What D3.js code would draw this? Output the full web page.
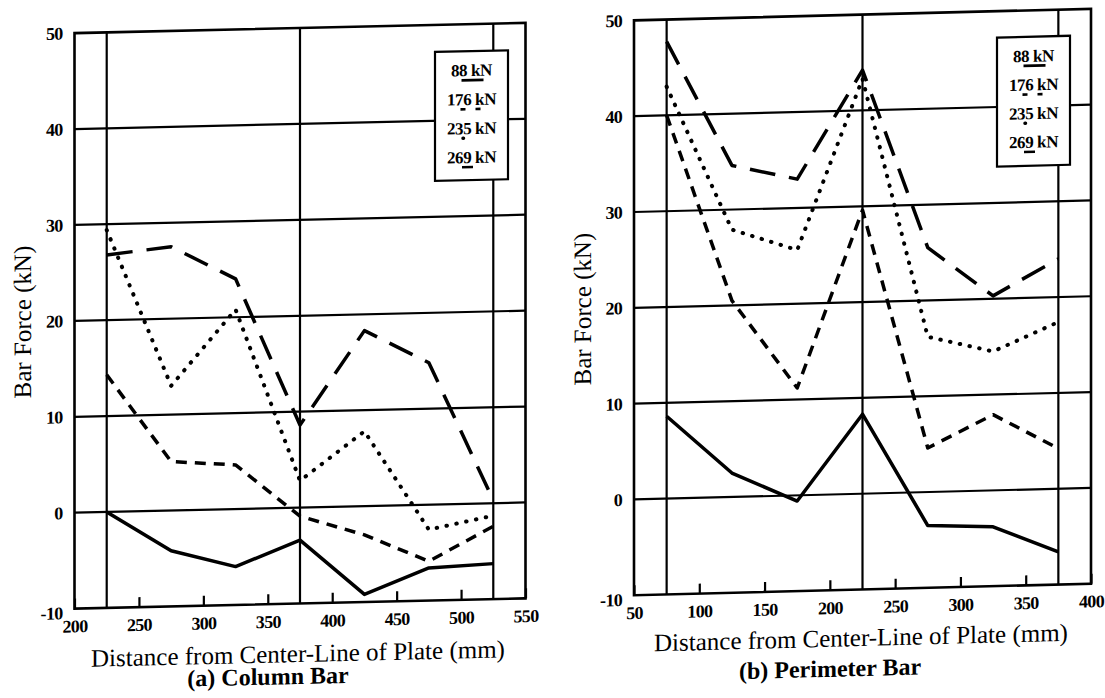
<!DOCTYPE html>
<html>
<head>
<meta charset="utf-8">
<script src="https://cdn.jsdelivr.net/npm/d3@7"></script>
<style>
  body { margin: 0; background: #fff; }
  text { font-family: "Liberation Serif", "Times New Roman", serif; fill: #000; }
</style>
</head>
<body>
<svg id="chart" width="1105" height="698"></svg>
<script>
// load levels, one line per load
const loads = ["88 kN", "176 kN", "235 kN", "269 kN"];

// (a) Column Bar
const colX = [225, 275, 325, 375, 425, 475, 525];
const col88 = [0, -4.2, -6.0, -3.4, -9.2, -6.6, -6.3];
const col176 = [14.3, 5.1, 4.6, -0.9, -3.0, -5.9, -2.4];
const col235 = [29.4, 13.0, 20.8, 2.8, 7.8, -2.6, -1.3];
const col269 = [26.8, 27.5, 24.0, 8.6, 18.3, 14.8, 0.3];
const colTicks = [200, 250, 300, 350, 400, 450, 500, 550];
const colGrid = [225, 375, 525];

// (b) Perimeter Bar
const perX = [75, 125, 175, 225, 275, 325, 375];
const per88 = [8.6, 2.5, -0.6, 8.3, -3.5, -3.8, -6.6];
const per176 = [40.0, 20.5, 11.2, 29.6, 4.6, 7.9, 4.2];
const per235 = [43.0, 27.9, 25.6, 43.3, 16.2, 14.5, 17.4];
const per269 = [47.7, 34.6, 33.0, 44.2, 25.5, 20.3, 24.0];
const perTicks = [50, 100, 150, 200, 250, 300, 350, 400];
const perGrid = [75, 225, 375];

const yTicks = [-10, 0, 10, 20, 30, 40, 50];
const yGrid = [0, 10, 20, 30, 40];

// line styles per load
const lineDash = ["none", "11,8", "0.5,9.5", "26,14"];
const lineWidth = [3.5, 3.5, 4, 3.5];
const lineCap = ["butt", "butt", "round", "butt"];
// little samples under the legend text
const sampleDash = ["none", "5,10", "0.5,10", "none"];
const sampleSpan = [[-10, 12], [-11, 9], [-8.5, 1.5], [-9.5, 1.5]];

const svg = d3.select("#chart");
const plain = d => String(d); // keep the hyphen in "-10"

function drawPanel(p) {
  const cx = (p.left + p.right) / 2, cy = (p.top + p.bottom) / 2;
  // the scanned page is slightly skewed
  const g = svg.append("g")
    .attr("transform", `translate(${cx},${cy}) skewY(${p.skew}) translate(${-cx},${-cy})`);

  const x = d3.scaleLinear().domain(p.xDomain).range([p.left, p.right]);
  const y = d3.scaleLinear().domain([-10, 50]).range([p.bottom, p.top]);

  // horizontal grid
  g.selectAll(".hgrid")
    .data(yGrid)
    .enter()
    .append("line")
    .attr("x1", p.left)
    .attr("x2", p.right)
    .attr("y1", d => y(d))
    .attr("y2", d => y(d))
    .attr("stroke", "#000")
    .attr("stroke-width", 2.2);

  // vertical grid
  g.selectAll(".vgrid")
    .data(p.grid)
    .enter()
    .append("line")
    .attr("x1", d => x(d))
    .attr("x2", d => x(d))
    .attr("y1", p.top)
    .attr("y2", p.bottom)
    .attr("stroke", "#000")
    .attr("stroke-width", 2.2);

  // frame
  g.append("rect")
    .attr("x", p.left)
    .attr("y", p.top)
    .attr("width", p.right - p.left)
    .attr("height", p.bottom - p.top)
    .attr("fill", "none")
    .attr("stroke", "#000")
    .attr("stroke-width", 2.6);

  // bottom axis, ticks pointing in
  const xAxis = g.append("g")
    .attr("transform", `translate(0,${p.bottom})`)
    .call(d3.axisBottom(x).tickValues(p.ticks).tickSize(-10).tickPadding(11).tickFormat(plain));
  xAxis.select(".domain").remove();
  xAxis.selectAll("line").attr("stroke-width", 2.2);
  xAxis.selectAll("text")
    .style("font-family", "'Liberation Serif', serif")
    .style("font-weight", "bold")
    .style("font-size", "18px")
    .style("letter-spacing", "-0.7px");

  const yAxis = g.append("g")
    .attr("transform", `translate(${p.left},0)`)
    .call(d3.axisLeft(y).tickValues(yTicks).tickSize(0).tickPadding(12).tickFormat(plain));
  yAxis.select(".domain").remove();
  yAxis.selectAll("text")
    .style("font-family", "'Liberation Serif', serif")
    .style("font-weight", "bold")
    .style("font-size", "18px")
    .style("letter-spacing", "-0.7px")
    .attr("dy", d => d === -10 ? "0.55em" : "0.32em");

  // series lines
  const line = d3.line()
    .x((d, i) => x(p.xs[i]))
    .y(d => y(d));

  p.series.forEach((vals, k) => {
    g.append("path")
      .datum(vals)
      .attr("fill", "none")
      .attr("stroke", "#000")
      .attr("stroke-width", lineWidth[k])
      .attr("stroke-dasharray", lineDash[k])
      .attr("stroke-linecap", lineCap[k])
      .attr("stroke-linejoin", "round")
      .attr("d", line);
  });

  // legend
  const lg = g.append("g");
  lg.append("rect")
    .attr("x", p.legend.x)
    .attr("y", p.legend.y)
    .attr("width", 73)
    .attr("height", p.legend.h)
    .attr("fill", "#fff")
    .attr("stroke", "#000")
    .attr("stroke-width", 2.2);
  const lcx = p.legend.x + 36.5;
  loads.forEach((name, k) => {
    const ry = p.legend.y + 19 + k * p.legend.step;
    lg.append("text")
      .attr("x", lcx)
      .attr("y", ry)
      .attr("dy", "0.35em")
      .attr("text-anchor", "middle")
      .style("font-weight", "bold")
      .style("font-size", "17px")
      .style("letter-spacing", "-0.4px")
      .text(name);
    lg.append("line")
      .attr("x1", lcx + sampleSpan[k][0])
      .attr("x2", lcx + sampleSpan[k][1])
      .attr("y1", ry + 10)
      .attr("y2", ry + 10)
      .attr("stroke", "#000")
      .attr("stroke-width", k === 2 ? 3.5 : 2.6)
      .attr("stroke-linecap", k === 2 ? "round" : "butt")
      .attr("stroke-dasharray", sampleDash[k]);
  });

  // titles
  g.append("text")
    .attr("transform", `translate(${p.yTitleX},${cy}) rotate(-90)`)
    .attr("text-anchor", "middle")
    .attr("dy", "0.35em")
    .style("font-size", "25px")
    .text("Bar Force (kN)");

  g.append("text")
    .attr("x", p.xTitleX)
    .attr("y", p.xTitleY)
    .attr("text-anchor", "middle")
    .style("font-size", "25px")
    .text("Distance from Center-Line of Plate (mm)");

  g.append("text")
    .attr("x", p.subX)
    .attr("y", p.subY)
    .attr("text-anchor", "middle")
    .style("font-size", "24px")
    .style("font-weight", "bold")
    .text(p.subtitle);
}

drawPanel({
  left: 74.5, right: 525.5, top: 28, bottom: 603.5, skew: -1.3,
  xDomain: [200, 550], xs: colX, ticks: colTicks, grid: colGrid,
  series: [col88, col176, col235, col269],
  legend: { x: 435, y: 55, h: 129, step: 29 },
  yTitleX: 22, xTitleX: 298, xTitleY: 662, subX: 268, subY: 684,
  subtitle: "(a) Column Bar"
});

drawPanel({
  left: 634, right: 1091, top: 14.6, bottom: 589.5, skew: -1.45,
  xDomain: [50, 400], xs: perX, ticks: perTicks, grid: perGrid,
  series: [per88, per176, per235, per269],
  legend: { x: 997, y: 41, h: 129, step: 28.7 },
  yTitleX: 582, xTitleX: 861, xTitleY: 646, subX: 830, subY: 676,
  subtitle: "(b) Perimeter Bar"
});
</script>
</body>
</html>
